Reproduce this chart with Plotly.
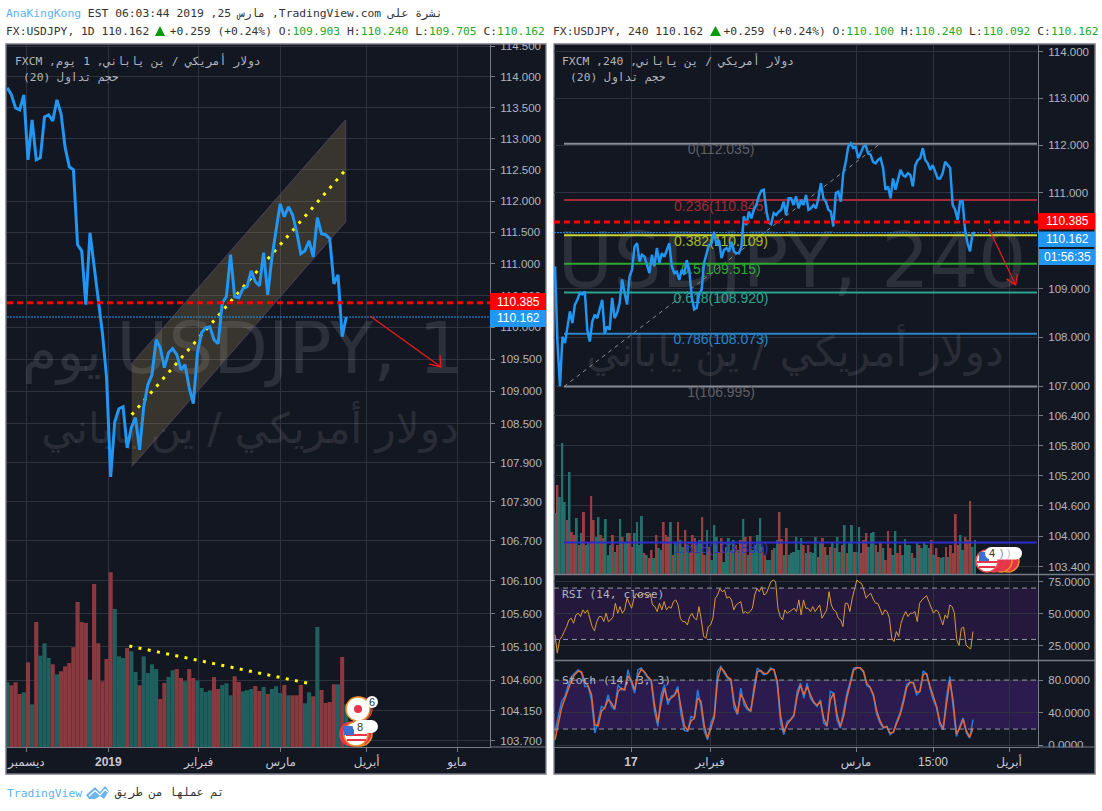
"""
USD/JPY two-pane TradingView snapshot (daily + 4h) rebuilt with Plotly.
"""

import numpy as np
import plotly.graph_objects as go

W, H = 1102, 811

BG = "#131722"
GRID = "#2E3240"
FRAME = "#787B86"
TICK = "#B2B5BE"
BLUE = "#2196F3"
RED_BAR = "#8A3A3E"
TEAL_BAR = "#1F5F5E"

# --- daily pane -----------------------------------------------------------
price_daily = [
    113.822, 113.709, 113.498, 113.466, 113.709, 112.660, 113.304, 112.660, 112.692, 113.352,
    113.385, 113.288, 113.628, 113.401, 112.853, 112.548, 112.500, 111.304, 111.208, 110.356,
    111.494, 110.954, 110.482, 109.916, 109.228, 107.680, 108.529, 108.731, 108.762, 108.127,
    108.437, 108.592, 108.096, 108.762, 109.103, 109.259, 109.806, 109.681, 109.369, 109.603,
    109.666, 109.572, 109.338, 109.416, 109.056, 108.809, 109.603, 109.916, 109.994, 110.009,
    109.806, 109.744, 110.388, 110.482, 111.145, 110.482, 110.466, 110.608, 110.639, 110.891,
    110.718, 110.655, 111.177, 110.513, 111.097, 111.494, 111.955, 111.749, 111.908, 111.781,
    111.510, 111.161, 111.208, 111.367, 111.113, 111.733, 111.479, 111.463, 111.399, 110.683,
    110.828, 109.853, 110.162,
]
volume_daily = [
    64.7, 61.7, 64.7, 53, 54.7, 84.7, 42.7, 125, 91.3, 103.7,
    89, 82.7, 72.7, 75.7, 80.7, 84, 99.7, 145, 125, 124,
    67.3, 163, 103.7, 65.7, 88, 174.7, 138, 90.7, 89, 99,
    95.7, 75, 61.7, 90.7, 74, 82.7, 78, 48, 64, 70,
    76.7, 78, 69, 65.7, 78, 69, 66.3, 59, 55, 56.7,
    70, 58, 62, 63.7, 51.7, 70.7, 65, 55.7, 56.7, 58,
    61, 56, 60, 53, 58, 60.7, 54, 62, 51.7, 51.7,
    51.7, 62, 43.7, 54.7, 50.7, 120, 57, 44, 45, 62.7,
    62.7, 90, 42.7,
]
volume_daily_side = (
    "TRRRTRTRTT" "TRTRRRRRRR" "TRRRRRTTTR" "TTRTTTTRRT" "TRRTRRTTTT"
    "RRTTTRRTTT" "RRTRTTTRTR" "RRTTRTRRRR" "TRT"
)
ticks_daily = [114.5, 114, 113.5, 113, 112.5, 112, 111.5, 111, 110.5, 110, 109.5,
                109, 108.5, 107.9, 107.3, 106.7, 106.1, 105.6, 105.1, 104.6, 104.15, 103.7]
months_daily = ["ديسمبر", "<b>2019</b>", "فبراير", "مارس", "أبريل", "مايو"]
months_daily_px = [26.3, 108.3, 198.7, 280.7, 366.7, 457]

# channel: (left, right) ends in price
channel_top = [109.431, 113.304]
channel_mid = [108.638, 112.500]
channel_bot = [107.834, 111.669]
vol_trend = [101, 63.7]

# --- 4h pane --------------------------------------------------------------
price_4h = [
    109.46, 107.88, 107.00, 108.01, 107.88, 108.22, 108.53, 108.29, 108.67, 108.77,
    108.91, 108.88, 108.94, 108.15, 107.91, 108.32, 108.46, 108.39, 108.57, 108.77,
    108.08, 108.22, 108.15, 108.81, 108.39, 108.50, 108.70, 109.19, 108.91, 108.67,
    109.25, 109.39, 109.87, 109.94, 109.56, 109.70, 109.66, 109.49, 109.32, 109.70,
    109.46, 109.84, 109.53, 109.73, 109.66, 109.80, 109.94, 109.46, 109.32, 109.35,
    109.18, 109.39, 109.29, 109.59, 109.39, 108.84, 108.57, 108.60, 108.88, 108.98,
    109.53, 109.73, 109.90, 109.94, 110.18, 109.90, 110.01, 109.63, 109.80, 109.84,
    109.77, 109.97, 109.77, 109.73, 109.73, 109.87, 110.50, 110.32, 110.60, 110.46,
    110.64, 110.74, 110.92, 111.04, 111.06, 110.64, 110.37, 110.34, 110.57, 110.53,
    110.60, 110.64, 110.81, 110.53, 110.88, 110.88, 110.74, 110.92, 110.67, 110.85,
    110.74, 110.95, 110.64, 110.67, 110.74, 110.67, 110.88, 111.20, 110.88, 110.81,
    110.64, 110.60, 110.29, 110.99, 111.02, 110.81, 111.41, 111.65, 111.97, 112.04,
    111.94, 111.97, 111.73, 111.83, 111.97, 112.00, 111.83, 111.80, 111.65, 111.62,
    111.69, 111.73, 111.52, 111.06, 111.13, 110.88, 111.30, 111.06, 111.27, 111.48,
    111.37, 111.34, 111.41, 111.37, 111.13, 111.58, 111.69, 111.73, 111.94, 111.69,
    111.62, 111.48, 111.58, 111.44, 111.30, 111.30, 111.41, 111.65, 111.58, 111.52,
    110.74, 110.64, 110.43, 110.81, 110.82, 110.22, 109.94, 109.77, 110.15, 110.162,
]
volume_4h = [
    61, 89, 77, 131, 72, 54, 102, 42, 39, 56,
    29, 41, 62, 29, 31, 78, 54, 37, 57, 39,
    36, 55, 19, 29, 39, 22, 29, 55, 37, 31,
    41, 41, 27, 41, 52, 29, 58, 21, 19, 16,
    24, 16, 39, 26, 24, 52, 39, 37, 52, 19,
    31, 52, 34, 27, 44, 29, 21, 39, 36, 29,
    34, 57, 19, 44, 27, 14, 49, 37, 21, 36,
    12, 27, 36, 24, 34, 29, 24, 34, 55, 37,
    19, 38, 24, 29, 39, 56, 27, 19, 14, 14,
    24, 26, 34, 62, 35, 19, 46, 19, 21, 22,
    37, 24, 36, 29, 21, 29, 22, 21, 37, 17,
    31, 36, 27, 19, 27, 32,
    26, 37, 22, 29, 49, 21, 32, 49, 22, 22,
    47, 21, 34, 41, 27, 41, 42, 29, 22, 32,
    26, 14, 43, 26, 19, 43, 21, 29, 19, 35,
    29, 29, 21, 16, 32, 29, 26, 32, 29, 26,
    34, 19, 26, 17, 16, 17, 27, 17, 29, 21,
    60, 29, 39, 24, 37, 34, 73, 27, 34,
]
volume_4h_side = (
    "TRTTTRTRRT" "RTRTTRRTTR" "RTTTRTRTRT" "TRRTTTTRTR" "RTRTTRRRTR"
    "TRTTRTRRRT" "TRRTRTTTRR" "TTTRTRTRTR" "TRTTTTRRTT" "RTTRRTRTTT"
    "TTTRTRTTTR" "TRRTRT"
    "RTTRTRTTRT" "TRRRTTTRTR" "TRRRTTRRTT" "TTRTTRTTTT" "RTRRTTRTRR" "RRTTRRRTT"
)
ticks_4h = [114, 113, 112, 111, 109, 108, 107, 106.4, 105.8, 105.2, 104.6, 104, 103.4]
months_4h = ["<b>17</b>", "فبراير", "مارس", "15:00", "أبريل"]
months_4h_px = [631, 710, 856, 933, 1009]

fib_levels = [112.035, 110.845, 110.109, 109.515, 108.920, 108.073, 106.995, 103.880]
fib_names = ["0", "0.236", "0.382", "0.5", "0.618", "0.786", "1", "1.618"]
fib_colors = ["#8A8C93", "#A52A34", "#C6D62E", "#2FA82F", "#2BA58F", "#2A86C8", "#8A8C93", "#2A2AD0"]
fib_text_colors = ["#5E6068", "#A52A34", "#A9B920", "#2FA82F", "#2BA58F", "#2A86C8", "#5E6068", "#3434B8"]

rsi = [
    33.6, 19.3, 29.7, 32.3, 36.2, 40, 45.2, 46.5, 42.6, 49.1, 50.4, 47.8, 53, 50.4, 53, 46.5, 40, 36.7,
    43.9, 47.8, 47.8, 43.9, 50.4, 43.9, 45.2, 47.8, 58.2, 50.4, 55.6, 50.4, 53, 62.1, 58.2, 54.3, 62.1,
    65.9, 63.3, 64.6, 65.9, 64.6, 63.3, 65.9, 56.9, 55.6, 51.7, 58.2, 53, 59.5, 53, 55.6, 54.3, 59.5,
    60.8, 56.9, 46.5, 43.9, 43.9, 41.3, 47.8, 50.4, 46.5, 45.2, 55.6, 45.2, 32.3, 31, 40, 41.3, 46.5,
    62.1, 64.6, 69.8, 67.2, 68.5, 62.1, 63.3, 60.8, 53, 56.9, 58.2, 59.5, 50.4, 51.7, 50.4, 51.7, 54.3,
    64.6, 69.8, 67.2, 71.1, 64.6, 65.9, 69.8, 75, 76.3, 75, 54.3, 47.8, 45.2, 53, 50.4, 51.7, 53, 54.3,
    51.7, 60.8, 49.1, 60.8, 54.3, 54.3, 51.7, 55.6, 51.7, 54.3, 56.9, 46.5, 50.4, 53, 67.2, 56.9,
    53, 51.7, 46.5, 45.2, 40, 58.2, 58.2, 51.7, 62.1, 68.5, 76.3, 74.5, 73.7, 68.5, 62.1, 64.6, 65.9,
    61.5, 58.2, 58.2, 54.3, 49.1, 53, 51.7, 46.5, 31, 28.4, 36.2, 32.3, 42.6, 47.8, 51.7, 47.8, 50.4,
    50.4, 51.7, 43.9, 58.2, 60.8, 62.1, 64.1, 59.5, 55.6, 50.4, 53, 51.7, 46.5, 41.3, 49.1, 46.5, 56.9,
    55.6, 50.4, 29.7, 25.3, 38.7, 39.5, 25.8, 23.7, 22.7, 36.2,
]
stoch_k = [
    17.1, 37.5, 53.9, 60, 74.3, 84.5, 88.5, 92.6, 88.5, 72.2,
    72.2, 55.9, 15.1, 29.4, 47.7, 45.7, 62, 47.7, 43.7, 74.3,
    68.1, 68.1, 92.6, 76.3, 64.1, 92.6, 94.7, 88.5, 82.4, 78.3,
    41.6, 23.3, 62, 74.3, 49.8, 60, 62, 72.2, 37.5, 18.4,
    17.1, 35.5, 33.5, 68.1, 47.7, 17.1, 6.9, 27.3, 37.5, 90.6,
    96.7, 88.5, 82.4, 80.4, 45.7, 37.5, 70.2, 49.8, 43.7, 41.6,
    72.2, 94.7, 90.6, 86.5, 88.5, 94.7, 92.6, 74.3, 27.3, 13.1,
    29.4, 31.4, 37.5, 66.1, 76.3, 57.9, 76.3, 57.9, 51.8, 47.7,
    55.9, 27.3, 23.3, 66.1,
    64.1, 31.4, 21.2, 41.6, 64.1, 78.3, 94.7, 95.5, 94.7, 89.4,
    73, 71, 60, 37.5, 27.3, 21.2, 23.3, 13.1, 17.1, 29.4,
    39.6, 55.9, 74.3, 77.5, 76.3, 62, 66.1, 91.4, 87.3, 70.2,
    55.9, 46.5, 25.3, 19.2, 57.9, 84.5, 47.7, 11, 23.3, 33.5,
    15.1, 9, 31.4,
]
stoch_d = [
    6.9, 28, 46, 57, 68, 80, 87, 91, 90, 78,
    73, 62, 25, 24, 42, 46, 56, 52, 45, 66,
    70, 68, 85, 80, 68, 85, 93, 90, 84, 80,
    50, 28, 52, 70, 55, 58, 61, 69, 45, 24,
    18, 30, 33, 58, 54, 24, 9, 22, 34, 80,
    95, 91, 84, 81, 53, 39, 63, 55, 46, 42,
    64, 90, 92, 88, 88, 93, 93, 79, 36, 16,
    26, 31, 36, 60, 74, 62, 72, 62, 53, 49,
    54, 33, 24, 56,
    64, 38, 23, 36, 59, 75, 92, 95, 95, 91,
    76, 71, 62, 42, 30, 22, 23, 15, 16, 27,
    37, 52, 71, 77, 77, 65, 66, 87, 88, 73,
    59, 48, 29, 20, 50, 80, 55, 14, 21, 32,
    18, 10, 21,
]
rsi_ticks = [75, 50, 25]
rsi_band = [30, 70]
stoch_ticks = [80, 40, 0]
stoch_band = [20, 80]

resistance = 110.385
last_close = 110.162

MONO = "DejaVu Sans Mono"
SANS = "Liberation Sans, DejaVu Sans"
WMARK = "rgba(255,255,255,0.11)"


def fx(px):
    return px / W


def fy(py):
    return 1 - py / H


# daily pane index <-> pixel
D_PITCH = 4.134


def lx(px):
    return (px - 7.3) / D_PITCH


# 4h pane index <-> pixel
H_PITCH = 420 / (len(price_4h) - 1)


def rx(px):
    return (px - 555) / H_PITCH


def seq_4h(values, end_px=975):
    return np.linspace(0, rx(end_px), len(values))


def colors(side, red=RED_BAR, teal=TEAL_BAR):
    return [red if c == "R" else teal for c in side]


fig = go.Figure()

# watermarks sit at the very bottom, on the volume axes
fig.add_trace(go.Scatter(
    x=[lx(62), lx(290), lx(250)], y=[747 - 357, 747 - 355, 747 - 432],
    mode="text", text=["يوم", "USDJPY, 1", "دولار أمريكي / ين ياباني"],
    textposition="middle center", cliponaxis=False,
    textfont=dict(family="DejaVu Sans", size=[56, 71, 42], color=WMARK),
    xaxis="x", yaxis="y", showlegend=False, hoverinfo="skip",
))
fig.add_trace(go.Scatter(
    x=[rx(792), rx(795)], y=[574 - 268, 574 - 355],
    mode="text", text=["USDJPY, 240", "دولار أمريكي / ين ياباني"],
    textposition="middle center", cliponaxis=False,
    textfont=dict(family="DejaVu Sans", size=[76, 42], color=WMARK),
    xaxis="x2", yaxis="y3", showlegend=False, hoverinfo="skip",
))

# volume
fig.add_trace(go.Bar(
    x=list(range(len(volume_daily))), y=volume_daily, width=1.0,
    marker=dict(color=colors(volume_daily_side), line_width=0),
    xaxis="x", yaxis="y", showlegend=False,
))
fig.add_trace(go.Scatter(
    x=[lx(129.3), lx(308.3)], y=vol_trend, mode="lines",
    line=dict(color="#FFFF00", width=3, dash="3px,6.4px"),
    xaxis="x", yaxis="y", showlegend=False,
))
fig.add_trace(go.Bar(
    x=seq_4h(volume_4h), y=volume_4h, width=0.8,
    marker=dict(color=colors(volume_4h_side, "#96403F", "#25706C"), line_width=0),
    xaxis="x2", yaxis="y3", showlegend=False,
))

# daily channel
ch_x = [lx(131.7), lx(345.7)]
fig.add_trace(go.Scatter(
    x=ch_x + ch_x[::-1], y=channel_top + channel_bot[::-1],
    mode="lines", fill="toself", fillcolor="rgba(250,210,109,0.16)",
    line=dict(color="#4E4160", width=1), xaxis="x", yaxis="y2", showlegend=False,
))
fig.add_trace(go.Scatter(
    x=ch_x, y=channel_mid, mode="lines",
    line=dict(color="#FFFF00", width=3, dash="3px,6.4px"),
    xaxis="x", yaxis="y2", showlegend=False,
))
fig.add_trace(go.Scatter(
    x=[lx(7), lx(490)], y=[last_close] * 2, mode="lines",
    line=dict(color=BLUE, width=1, dash="2px,1px"), xaxis="x", yaxis="y2", showlegend=False,
))
fig.add_trace(go.Scatter(
    x=list(range(len(price_daily))), y=price_daily, mode="lines",
    line=dict(color=BLUE, width=3, shape="linear"), xaxis="x", yaxis="y2", showlegend=False,
))
fig.add_trace(go.Scatter(
    x=[lx(7), lx(490)], y=[resistance] * 2, mode="lines",
    line=dict(color="#FF0000", width=3, dash="6px,4px"), xaxis="x", yaxis="y2", showlegend=False,
))

# 4h fib levels
fib_x = [rx(564), rx(1037)]
fig.add_trace(go.Scatter(
    x=[rx(564), rx(880)], y=[fib_levels[6], fib_levels[0]], mode="lines",
    line=dict(color="#8A8C93", width=1, dash="4px,4px"), xaxis="x2", yaxis="y4", showlegend=False,
))
for level, color in zip(fib_levels, fib_colors):
    fig.add_trace(go.Scatter(
        x=fib_x, y=[level, level], mode="lines", line=dict(color=color, width=2),
        xaxis="x2", yaxis="y4", showlegend=False,
    ))
fig.add_trace(go.Scatter(
    x=[rx(721)] * len(fib_levels), y=fib_levels, mode="text",
    text=[f"{n}({v:.3f})" for n, v in zip(fib_names, fib_levels)],
    textposition="bottom center",
    textfont=dict(family="Liberation Sans", size=14, color=fib_text_colors),
    xaxis="x2", yaxis="y4", showlegend=False, hoverinfo="skip",
))
fig.add_trace(go.Scatter(
    x=[rx(554), rx(1038)], y=[last_close] * 2, mode="lines",
    line=dict(color=BLUE, width=1, dash="2px,1px"), xaxis="x2", yaxis="y4", showlegend=False,
))
fig.add_trace(go.Scatter(
    x=list(range(len(price_4h))), y=price_4h, mode="lines",
    line=dict(color=BLUE, width=2.5), xaxis="x2", yaxis="y4", showlegend=False,
))
fig.add_trace(go.Scatter(
    x=[rx(554), rx(1038)], y=[resistance] * 2, mode="lines",
    line=dict(color="#FF0000", width=3, dash="6px,4px"), xaxis="x2", yaxis="y4", showlegend=False,
))

# oscillators
fig.add_trace(go.Scatter(
    x=seq_4h(rsi, 973), y=rsi, mode="lines", line=dict(color="#D89A38", width=1),
    xaxis="x2", yaxis="y5", showlegend=False,
))
fig.add_trace(go.Scatter(
    x=seq_4h(stoch_k, 973), y=stoch_k, mode="lines", line=dict(color="#1E7FE0", width=1.5),
    xaxis="x2", yaxis="y6", showlegend=False,
))
fig.add_trace(go.Scatter(
    x=seq_4h(stoch_d, 973), y=stoch_d, mode="lines", line=dict(color="#E2683A", width=1.5),
    xaxis="x2", yaxis="y6", showlegend=False,
))

shapes = []


def box(x0, y0, x1, y1, fill, line=None, width=0, layer="above"):
    shapes.append(dict(
        type="rect", xref="paper", yref="paper", x0=fx(x0), x1=fx(x1), y0=fy(y1), y1=fy(y0),
        fillcolor=fill, line=dict(color=line or fill, width=width), layer=layer,
    ))


def seg(x0, y0, x1, y1, color, width=1, layer="above", dash=None):
    shapes.append(dict(
        type="line", xref="paper", yref="paper", x0=fx(x0), x1=fx(x1), y0=fy(y0), y1=fy(y1),
        line=dict(color=color, width=width, dash=dash), layer=layer,
    ))


def disc(cx, cy, r, fill, line="rgba(0,0,0,0)", width=0):
    shapes.append(dict(
        type="circle", xref="paper", yref="paper", x0=fx(cx - r), x1=fx(cx + r),
        y0=fy(cy + r), y1=fy(cy - r), fillcolor=fill, line=dict(color=line, width=width),
        layer="above",
    ))


def pill(x0, y0, x1, y1):
    r = (y1 - y0) / 2
    box(x0 + r, y0, x1 - r, y1, "#FFFFFF")
    disc(x0 + r, y0 + r, r, "#FFFFFF")
    disc(x1 - r, y0 + r, r, "#FFFFFF")


def up_mark(x0, x1, y0, y1):
    shapes.append(dict(
        type="path", xref="paper", yref="paper", layer="above",
        path=f"M {fx(x0)} {fy(y1)} L {fx((x0 + x1) / 2)} {fy(y0)} L {fx(x1)} {fy(y1)} Z",
        fillcolor="#0A9A0A", line_width=0,
    ))


# pane backgrounds and frames
box(6, 44, 546, 774, BG, FRAME, 1.5, layer="below")
box(554, 44, 1095, 774, BG, FRAME, 1.5, layer="below")

# white strip hides the clipped top label
box(0, 0, 1102, 43, "#FFFFFF")
box(546.8, 43, 553.2, 774, "#FFFFFF")
up_mark(155, 165, 26, 36)
up_mark(710, 721, 26, 36)

# lower half of the 0.0000 label is clipped by the time axis pane
box(1039, 747.5, 1094, 754, BG)

# oscillator bands and dashed limits
for yref, band in (("y5", rsi_band), ("y6", stoch_band)):
    fill = "rgba(104,28,164,0.2)" if yref == "y5" else "rgba(99,36,187,0.3)"
    shapes.append(dict(type="rect", xref="x2", yref=yref, x0=rx(554), x1=rx(1038), y0=band[0], y1=band[1],
                       fillcolor=fill, line_width=0, layer="below"))
    for v in band:
        shapes.append(dict(type="line", xref="x2", yref=yref, x0=rx(554), x1=rx(1038), y0=v, y1=v,
                           line=dict(color="#9598A1", width=1, dash="5px,4px"), layer="above"))

# pane separators
seg(554, 574.5, 1095, 574.5, FRAME, 1.5)
seg(554, 660.5, 1095, 660.5, FRAME, 1.5)
seg(490, 747, 546, 747, FRAME, 1)
seg(1038, 747, 1095, 747, FRAME, 1)

# hand-drawn arrows
for pts in (
    [(370, 316), (441, 367), (429, 364), (441, 367), (440, 355)],
    [(989, 229), (1015.7, 285), (1006.7, 279), (1015.7, 285), (1017.3, 274)],
):
    for a, b in zip(pts[:-1], pts[1:]):
        seg(a[0], a[1], b[0], b[1], "#F21A1A", 1.2)

# price tags
box(490, 293, 546, 310, "#FF0000")
box(490, 310, 546, 327, BLUE)
box(1038, 213, 1095, 229.5, "#FF0000")
box(1038, 231.5, 1095, 247, BLUE)
box(1039, 249, 1095, 265, BLUE)

# event flags, daily pane
disc(360, 709, 12, "rgba(0,0,0,0)", "#E04050", 1.2)
disc(358, 709, 12, "#FFFFFF", "#E8902A", 1.5)
disc(358, 709, 4, "#E8344A")
disc(352, 734, 12, "#E8344A", "#E04050", 1.5)
disc(360, 734, 12, "#E8344A", "#E8902A", 1.5)
disc(356, 734, 12, "#FFFFFF", "#E8902A", 1.5)
seg(346, 735, 367, 735, "#E8344A", 2)
seg(347, 740, 366, 740, "#E8344A", 2)
box(344, 726, 354, 735, "#3B6FD0")
pill(352.7, 720, 378, 733)
disc(372, 702, 6, "#FFFFFF")

# event flags, 4h pane
for cx, line in ((1008, "#E8902A"), (1001, "#E8902A"), (994, "#E04050")):
    disc(cx, 561, 11, "#E8344A", line, 1.5)
disc(987, 561, 11, "#FFFFFF", "#E8504A", 1.5)
seg(977, 562, 997, 562, "#E8344A", 2)
seg(979, 567, 995, 567, "#E8344A", 2)
box(979, 552, 989, 561, "#3B6FD0")
pill(985, 547, 1022, 559.5)

# TradingView logo
shapes.append(dict(
    type="path", xref="paper", yref="paper", layer="above",
    path=(f"M {fx(86)} {fy(795)} L {fx(95)} {fy(787)} L {fx(100)} {fy(792)} L {fx(105)} {fy(786)} "
          f"L {fx(109)} {fy(791)} L {fx(104)} {fy(799)} L {fx(100)} {fy(796)} L {fx(95)} {fy(799)} "
          f"L {fx(89)} {fy(799)} Z"),
    fillcolor="#6CB6EC", line_width=0,
))
for a, b in (((89, 796), (95, 790.5)), ((95, 790.5), (100, 795)), ((100, 795), (105, 789.5)), ((105, 789.5), (108, 792))):
    seg(a[0], a[1], b[0], b[1], "#FFFFFF", 1.2)

notes = []


def note(px, py, text, color="#333333", size=11.33, family=MONO, anchor="left"):
    notes.append(dict(
        xref="paper", yref="paper", x=fx(px), y=fy(py), text=text, showarrow=False,
        xanchor=anchor, yanchor="middle", align="left", borderpad=0,
        font=dict(family=family, size=size, color=color),
    ))


def g(s):
    return f'<span style="color:#1FA82A">{s}</span>'


GAP = "\u00a0\u00a0\u00a0"  # room for the up triangle

note(5, 13, '<span style="color:#5BB4F0">AnaKingKong</span> EST 06:03:44 2019 ,25 مارس ,TradingView.com نشرة على')
note(5, 31, f'FX:USDJPY, 1D 110.162{GAP}+0.259 (+0.24%) O:{g("109.903")} H:{g("110.240")} '
            f'L:{g("109.705")} C:{g("110.162")}')
note(552, 31, f'FX:USDJPY, 240 110.162{GAP}+0.259 (+0.24%) O:{g("110.100")} H:{g("110.240")} '
              f'L:{g("110.092")} C:{g("110.162")}')
note(14, 61, "FXCM ,دولار أمريكي / ين ياباني, 1 يوم", TICK)
note(22, 78, "(20) حجم تداول", TICK)
note(561, 61, "FXCM ,دولار أمريكي / ين ياباني, 240", TICK)
note(569, 78, "(20) حجم تداول", TICK)
note(561, 594, "RSI (14, close)", TICK)
note(561, 680, "Stoch (14, 3, 3)", TICK)
note(6, 793, "TradingView", "#5BB4F0")
note(113, 792, "تم عملها من طريق", "#333333")

for px, py, txt in ((518, 301.5, "110.385"), (518, 318.5, "110.162"),
                    (1067, 221, "110.385"), (1067, 239, "110.162"), (1067, 257, "01:56:35")):
    note(px, py, txt, "#FFFFFF", 12, "Liberation Sans", "center")
note(372, 702, "6", "#333333", 11, "Liberation Sans", "center")
note(360, 727, "8", "#333333", 11, "Liberation Sans", "center")
note(992, 553, "4", "#333333", 11, "Liberation Sans", "center")
note(1001, 553, ")", "#777777", 10, "Liberation Sans", "center")
note(1008, 553, ")", "#BBBBBB", 10, "Liberation Sans", "center")

x_style = dict(
    showgrid=True, gridcolor=GRID, gridwidth=1, zeroline=False,
    tickmode="array", ticks="outside", ticklen=4, tickcolor=FRAME,
    tickfont=dict(family=SANS, size=12, color="#C8CAD0"),
    showline=True, linecolor=FRAME, linewidth=1,
)
y_style = dict(
    showgrid=True, gridcolor=GRID, gridwidth=1, zeroline=False,
    tickmode="array", ticks="outside", ticklen=4, tickcolor=FRAME, side="right",
    tickfont=dict(family=SANS, size=11.5, color=TICK), ticklabelstandoff=3,
    showline=True, linecolor=FRAME, linewidth=1,
)
hidden_y = dict(showgrid=False, zeroline=False, showticklabels=False, ticks="", showline=False)

main_top, main_bot = fy(747), fy(45)

fig.update_layout(
    width=W, height=H, autosize=False,
    margin=dict(l=0, r=0, t=0, b=0, autoexpand=False),
    paper_bgcolor="#FFFFFF", plot_bgcolor=BG,
    showlegend=False, barmode="overlay", hovermode=False,
    shapes=shapes, annotations=notes,
    xaxis=dict(
        x_style, domain=[fx(7), fx(490)], anchor="y",
        range=[lx(7), lx(490)],
        tickvals=[lx(p) for p in months_daily_px], ticktext=months_daily,
    ),
    yaxis=dict(hidden_y, domain=[main_top, main_bot], anchor="x", range=[0, 702]),
    yaxis2=dict(
        y_style, domain=[main_top, main_bot], anchor="x", overlaying="y", type="log",
        range=[np.log10(103.61), np.log10(114.52)],
        tickvals=ticks_daily, ticktext=[f"{t:.3f}" for t in ticks_daily],
    ),
    xaxis2=dict(
        x_style, domain=[fx(554), fx(1038)], anchor="y6",
        range=[rx(554), rx(1038)],
        tickvals=[rx(p) for p in months_4h_px], ticktext=months_4h,
    ),
    yaxis3=dict(hidden_y, domain=[fy(574), fy(45)], anchor="x2", range=[0, 529]),
    yaxis4=dict(
        y_style, domain=[fy(574), fy(45)], anchor="x2", overlaying="y3", type="log",
        range=[np.log10(103.26), np.log10(114.15)],
        tickvals=ticks_4h, ticktext=[f"{t:.3f}" for t in ticks_4h],
    ),
    yaxis5=dict(
        y_style, domain=[fy(660.5), fy(575)], anchor="x2", range=[13.6, 80.2],
        tickvals=rsi_ticks, ticktext=[f"{t:.4f}" for t in rsi_ticks],
    ),
    yaxis6=dict(
        y_style, domain=[fy(747), fy(660.5)], anchor="x2", range=[-2, 104],
        tickvals=stoch_ticks, ticktext=[f"{t:.4f}" for t in stoch_ticks],
    ),
)

fig.write_html(
    "out.html",
    config=dict(displayModeBar=False),
    post_script="document.body.style.margin='0';",
)
